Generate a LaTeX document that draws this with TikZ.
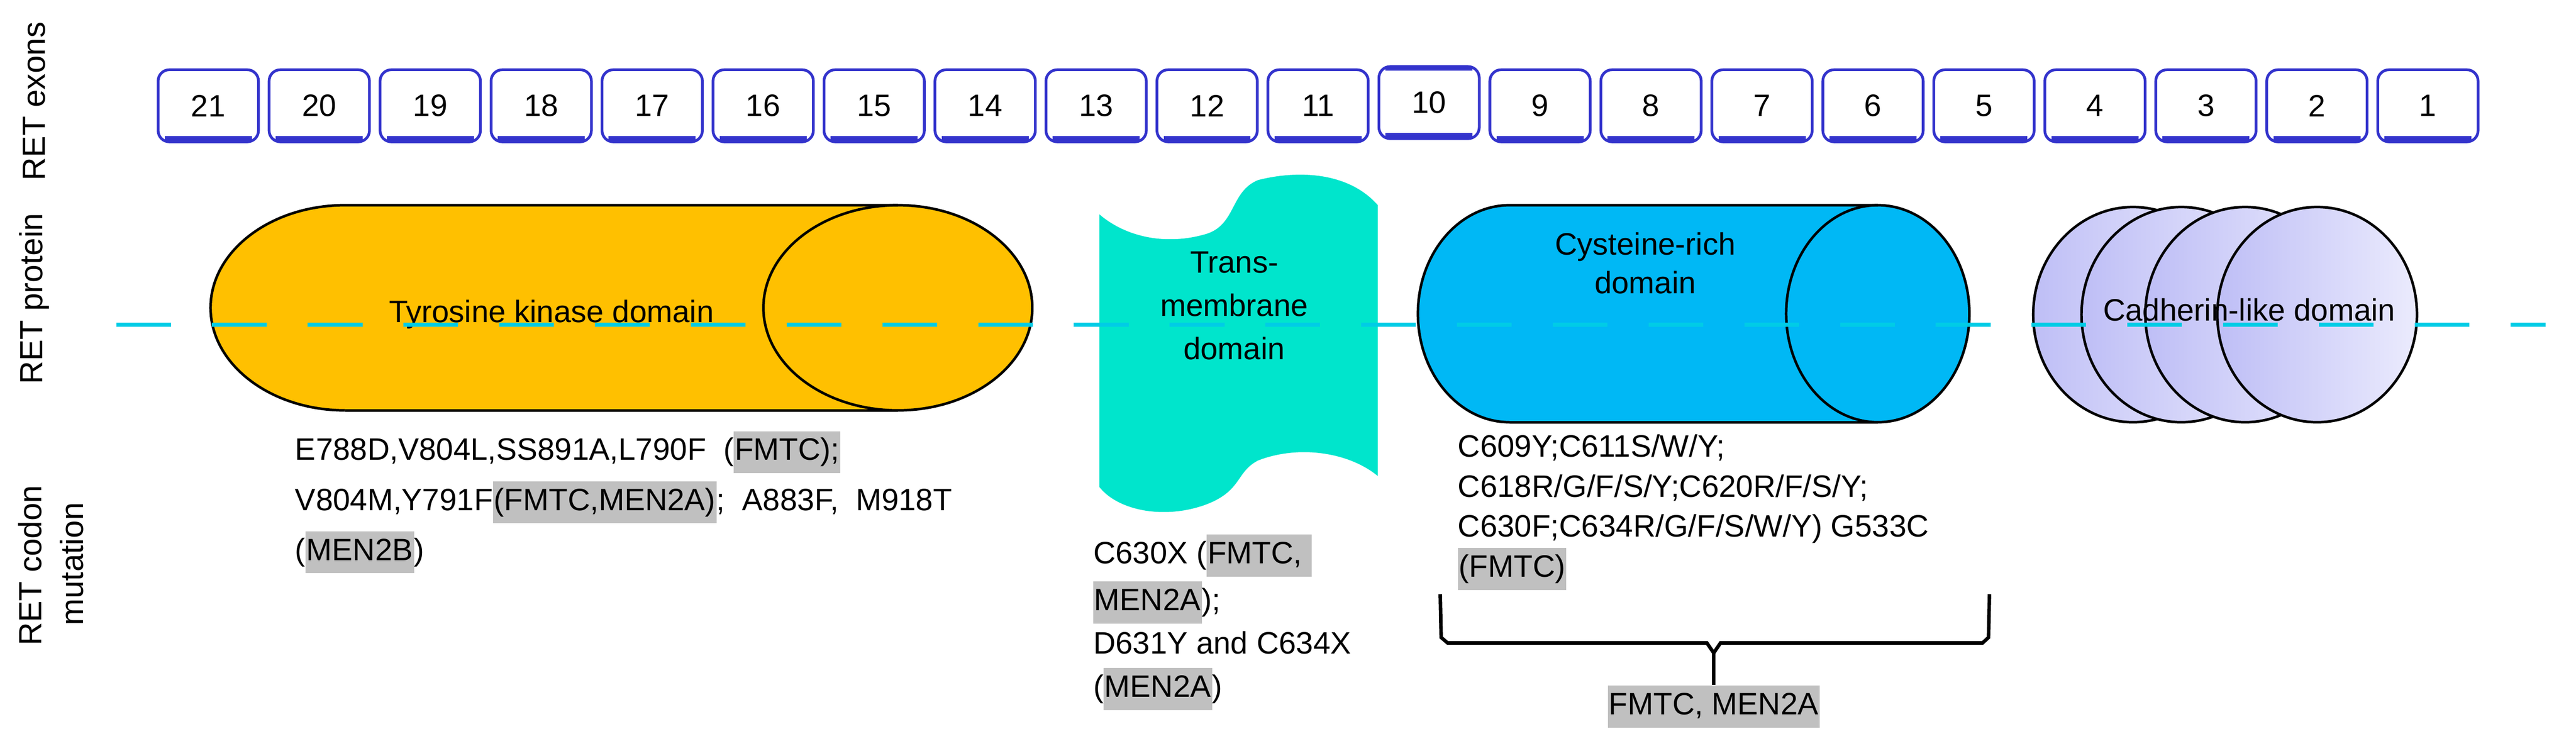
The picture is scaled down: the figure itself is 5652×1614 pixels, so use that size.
\documentclass[tikz,border=0pt]{standalone}
\usepackage{fontspec}
\setmainfont{Liberation Sans}
\definecolor{exblue}{HTML}{3333CC}
\definecolor{tyr}{HTML}{FFC000}
\definecolor{tmc}{HTML}{00E5CC}
\definecolor{cys}{HTML}{00B8F5}
\definecolor{dashc}{HTML}{00CCE6}
\definecolor{cadL}{HTML}{BEBEF6}
\definecolor{cadR}{HTML}{EBEBFD}
\definecolor{hlg}{HTML}{C0C0C0}
\newcommand\hlt[1]{{\setlength{\fboxsep}{0.6pt}\colorbox{hlg}{\strut #1}}}
\newcommand\ff{\fontsize{19.3pt}{25pt}\selectfont}
\begin{document}
\begin{tikzpicture}[x={(0.01cm,0)},y={(0,-0.01cm)},
  every node/.style={font=\ff,inner sep=0pt},
  exon/.style={draw=exblue,line width=1.7pt,rounded corners=7pt,minimum width=2.2cm,minimum height=1.58cm,fill=white},
  outl/.style={draw=black,line width=1.6pt},
  side/.style={rotate=90,font=\fontsize{20pt}{24pt}\selectfont},
  mut/.style={align=left,anchor=north west}]
\useasboundingbox (0,0) rectangle (5652,1614);
% side labels
\node[side] (lex) at (75,222) {RET exons};
\node[side] (lpr) at (75,655) {RET protein};
\node[side] (lc1) at (66,1240) {RET codon};
\node[side] (lc2) at (157,1237) {mutation};
% exons
\foreach \n [count=\k from 0] in {21,20,...,1}{
  \pgfmathsetmacro{\cx}{345+243.5*\k+112}
  \ifnum\n=10 \def\cy{225}\else\def\cy{232}\fi
  \node[exon] (ex\n) at (\cx,\cy) {\n};
  \draw[exblue,line width=4pt] ([xshift=5pt,yshift=2.5pt]ex\n.south west) -- ([xshift=-5pt,yshift=2.5pt]ex\n.south east);
}
\draw[exblue,line width=3pt] ([xshift=5pt,yshift=-2pt]ex10.north west) -- ([xshift=-5pt,yshift=-2pt]ex10.north east);
% tyrosine kinase cylinder
\fill[tyr] (757,675) ellipse[x radius=295,y radius=225];
\fill[tyr] (757,450) rectangle (1970,900);
\fill[tyr] (1970,675) ellipse[x radius=295,y radius=225];
\draw[outl] (757,900) arc[start angle=90,end angle=270,x radius=295,y radius=225] -- (1970,450);
\draw[outl] (757,900) -- (1970,900);
\draw[outl] (1970,675) ellipse[x radius=295,y radius=225];
\node (tyk) at (1210,690) {Tyrosine kinase domain};
% transmembrane
\fill[tmc] (2412,470) .. controls (2470,520) and (2560,540) .. (2650,512) .. controls (2712,490) and (2700,420) .. (2760,395) .. controls (2850,372) and (2960,378) .. (3023,450) -- (3023,1044) .. controls (2960,992) and (2850,975) .. (2760,1010) .. controls (2712,1035) and (2725,1075) .. (2650,1105) .. controls (2560,1140) and (2455,1122) .. (2412,1068) -- cycle;
\node[align=center,font=\fontsize{19.3pt}{27pt}\selectfont] (tmd) at (2708,670) {Trans-\\membrane\\domain};
% cysteine-rich cylinder
\fill[cys] (3312,688) ellipse[x radius=201,y radius=238];
\fill[cys] (3312,450) rectangle (4120,926);
\fill[cys] (4120,688) ellipse[x radius=201,y radius=238];
\draw[outl] (3312,926) arc[start angle=90,end angle=270,x radius=201,y radius=238] -- (4120,450);
\draw[outl] (3312,926) -- (4120,926);
\draw[outl] (4120,688) ellipse[x radius=201,y radius=238];
\node[align=center,font=\fontsize{19.3pt}{24pt}\selectfont] (cyd) at (3610,577) {Cysteine-rich\\domain};
% cadherin discs
\foreach \c in {4680,4786,4926,5084}{
  \shade[left color=cadL,right color=cadR] (\c,690) ellipse[x radius=219,y radius=236];
  \draw[outl] (\c,690) ellipse[x radius=219,y radius=236];
}
\node (cad) at (4935,679) {Cadherin-like domain};
% dashed axis
\coordinate (dl) at (255,712);
\coordinate (dr) at (5585,712);
\draw[dashc,line width=2.8pt,dash pattern=on 1.2cm off 0.9cm] (dl) -- (dr);
% mutation texts
\node[mut] (m1) at (647,945) {E788D,V804L,SS891A,L790F\ \ (\hlt{FMTC);}\\[4pt]V804M,Y791F\hlt{(FMTC,MEN2A)};\ \ A883F,\ \ M918T\\[4pt](\hlt{MEN2B})};
\node[mut] (m2) at (2398,1172) {C630X (\hlt{FMTC,\ }\\[2pt]\hlt{MEN2A});\\[2pt]D631Y and C634X\\[2pt](\hlt{MEN2A})};
\node[mut] (m3) at (3198,952) {C609Y;C611S/W/Y;\\[0pt]C618R/G/F/S/Y;C620R/F/S/Y;\\[0pt]C630F;C634R/G/F/S/W/Y) G533C\\[0pt]\hlt{(FMTC)}};
% brace
\draw[line width=2.2pt] (3160,1303) -- (3162,1398) -- (3176,1410) -- (3745,1410) -- (3760,1432) -- (3760,1502);
\draw[line width=2.2pt] (4365,1303) -- (4363,1398) -- (4350,1410) -- (3775,1410) -- (3760,1432);
\node (fm) at (3760,1550) {\hlt{FMTC, MEN2A}};
\end{tikzpicture}
\end{document}
